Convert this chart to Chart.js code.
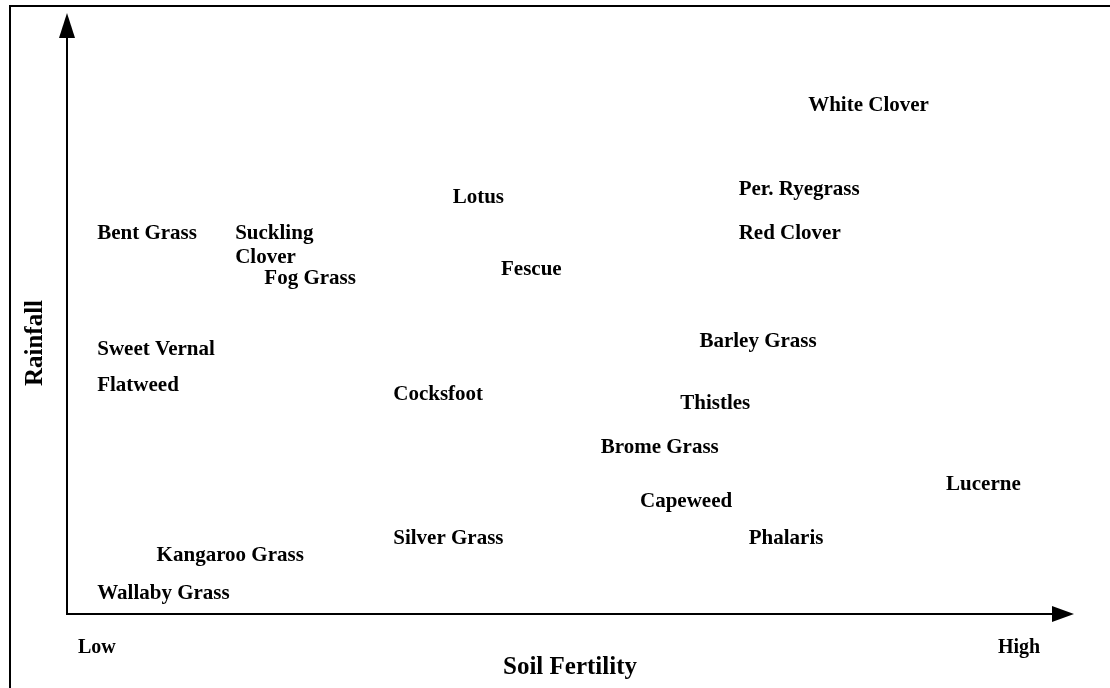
<!DOCTYPE html>
<html>
<head>
<meta charset="utf-8">
<title>Pasture species by soil fertility and rainfall</title>
<script src="https://cdn.jsdelivr.net/npm/chart.js@4/dist/chart.umd.min.js"></script>
<style>
    html, body { margin: 0; padding: 0; background: #fff; }
    #wrap { width: 1110px; height: 688px; position: relative; }
</style>
</head>
<body>
<div id="wrap"><canvas id="speciesChart"></canvas></div>
<script>
// Species names (multi-line names as arrays)
const species = [
    'White Clover', 'Per. Ryegrass', 'Lotus', 'Bent Grass', ['Suckling', 'Clover'],
    'Red Clover', 'Fog Grass', 'Fescue', 'Barley Grass', 'Sweet Vernal',
    'Flatweed', 'Cocksfoot', 'Thistles', 'Brome Grass', 'Lucerne',
    'Capeweed', 'Silver Grass', 'Phalaris', 'Kangaroo Grass', 'Wallaby Grass'
];
// Soil fertility (0 = low, 100 = high) - left edge of each label
const fertility = [
    73.6, 66.7, 38.3, 3.0, 16.7,
    66.7, 19.6, 43.1, 62.8, 3.0,
    3.0, 32.4, 60.9, 53.0, 87.3,
    56.9, 32.4, 67.7, 8.9, 3.0
];
// Rainfall (0 = low, 100 = high)
const rainfall = [
    84.9, 71.0, 69.7, 63.6, 61.6,
    63.6, 56.1, 57.6, 45.6, 44.3,
    38.4, 36.9, 35.3, 28.0, 21.8,
    19.0, 12.8, 12.8, 10.0, 3.8
];
const xEnds = ['Low', 'High'];

const font = '"Liberation Serif", "Times New Roman", Times, serif';

// Axes with arrow heads, frame, titles and species labels
const conceptPlugin = {
    id: 'concept',
    beforeDraw(chart) {
        const ctx = chart.ctx;
        ctx.save();
        ctx.strokeStyle = '#000';
        ctx.lineWidth = 2;
        ctx.strokeRect(10, 6, 1300, 1300);
        ctx.restore();
    },
    afterDatasetsDraw(chart) {
        const { ctx, chartArea: a, scales } = chart;
        ctx.save();
        ctx.strokeStyle = '#000';
        ctx.fillStyle = '#000';
        ctx.lineWidth = 2;

        // y axis
        ctx.beginPath();
        ctx.moveTo(a.left, a.bottom + 1);
        ctx.lineTo(a.left, a.top + 20);
        ctx.stroke();
        ctx.beginPath();
        ctx.moveTo(a.left, a.top);
        ctx.lineTo(a.left - 8, a.top + 25);
        ctx.lineTo(a.left + 8, a.top + 25);
        ctx.closePath();
        ctx.fill();

        // x axis
        ctx.beginPath();
        ctx.moveTo(a.left - 1, a.bottom);
        ctx.lineTo(a.right - 18, a.bottom);
        ctx.stroke();
        ctx.beginPath();
        ctx.moveTo(a.right, a.bottom);
        ctx.lineTo(a.right - 22, a.bottom - 8);
        ctx.lineTo(a.right - 22, a.bottom + 8);
        ctx.closePath();
        ctx.fill();

        // species labels
        ctx.font = 'bold 21px ' + font;
        ctx.textAlign = 'left';
        ctx.textBaseline = 'middle';
        const lineH = 24;
        species.forEach((name, i) => {
            const lines = Array.isArray(name) ? name : [name];
            const x = scales.x.getPixelForValue(fertility[i]);
            const y = scales.y.getPixelForValue(rainfall[i]) + 2;
            const y0 = y - (lines.length - 1) * lineH / 2;
            lines.forEach((ln, k) => ctx.fillText(ln, x, y0 + k * lineH));
        });

        // Low / High
        ctx.font = 'bold 20px ' + font;
        ctx.fillText(xEnds[0], 78, 648);
        ctx.fillText(xEnds[1], 998, 648);

        // axis titles
        ctx.font = 'bold 25px ' + font;
        ctx.textAlign = 'center';
        ctx.fillText('Soil Fertility', 570, 668);
        ctx.translate(36, 343);
        ctx.rotate(-Math.PI / 2);
        ctx.fillText('Rainfall', 0, 0);
        ctx.restore();
    }
};

new Chart(document.getElementById('speciesChart'), {
    type: 'scatter',
    data: {
        datasets: [{
            label: 'Species',
            data: fertility.map((x, i) => ({ x, y: rainfall[i] })),
            pointRadius: 0,
            pointHoverRadius: 0
        }]
    },
    options: {
        responsive: true,
        maintainAspectRatio: false,
        animation: false,
        layout: { padding: { left: 67, right: 36, top: 13, bottom: 74 } },
        plugins: {
            legend: { display: false },
            tooltip: { enabled: false }
        },
        scales: {
            x: { display: false, min: 0, max: 100 },
            y: { display: false, min: 0, max: 100 }
        }
    },
    plugins: [conceptPlugin]
});
</script>
</body>
</html>
